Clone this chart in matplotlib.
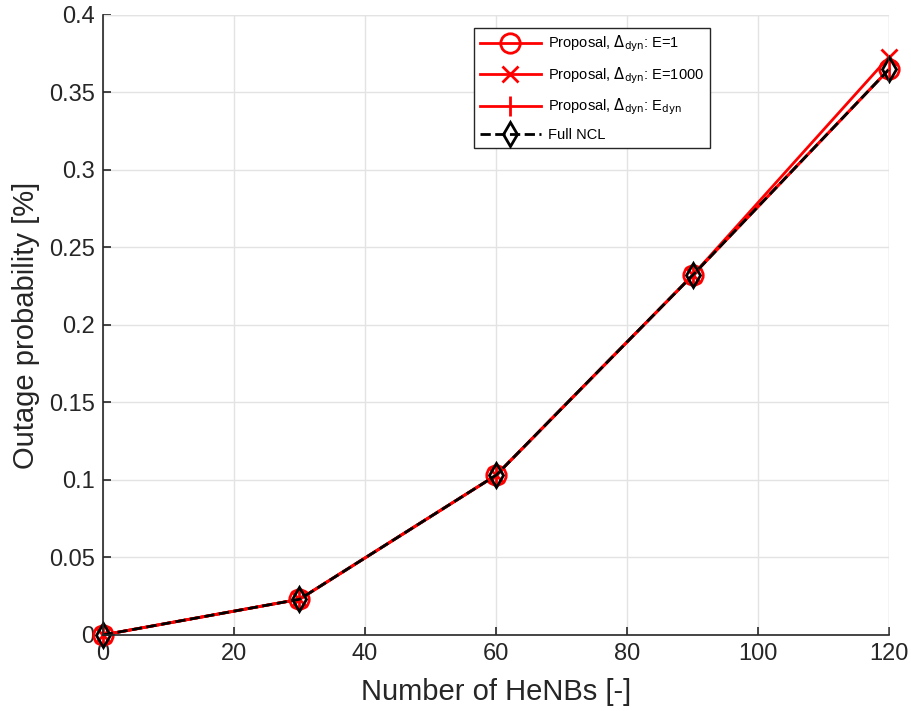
import matplotlib.pyplot as plt

plt.rcParams['font.family'] = ['Liberation Sans', 'DejaVu Sans']

henbs = [0, 30, 60, 90, 120]
prop_e1 = [0.0, 0.023, 0.103, 0.232, 0.365]
prop_e1000 = [0.0, 0.023, 0.103, 0.232, 0.373]
prop_edyn = [0.0, 0.023, 0.103, 0.232, 0.365]
full_ncl = [0.0, 0.023, 0.103, 0.232, 0.365]

fig = plt.figure(figsize=(9.11, 7.11), dpi=100)
ax = fig.add_axes([0.113, 0.107, 0.863, 0.872])

ax.plot(henbs, prop_e1, color='red', lw=2, marker='o', ms=14, mfc='none', mew=2,
        clip_on=False, label=r'Proposal, $\Delta_{\mathrm{dyn}}$: E=1')
ax.plot(henbs, prop_e1000, color='red', lw=2, marker='x', ms=12, mew=2,
        clip_on=False, label=r'Proposal, $\Delta_{\mathrm{dyn}}$: E=1000')
ax.plot(henbs, prop_edyn, color='red', lw=2, marker='|', ms=14, mew=2,
        clip_on=False, label=r'Proposal, $\Delta_{\mathrm{dyn}}$: E$_{\mathrm{dyn}}$')
ax.plot(henbs, full_ncl, color='black', lw=2, ls='--', marker='d', ms=12, mfc='none', mew=2,
        clip_on=False, label='Full NCL')

ax.set_xlim(0, 120)
ax.set_ylim(0, 0.4)
ax.set_xticks([0, 20, 40, 60, 80, 100, 120])
ax.set_yticks([0, 0.05, 0.1, 0.15, 0.2, 0.25, 0.3, 0.35, 0.4])
ax.set_yticklabels(['0', '0.05', '0.1', '0.15', '0.2', '0.25', '0.3', '0.35', '0.4'])
ax.tick_params(labelsize=17, colors='#262626', direction='in', length=6, width=1.2, pad=6)
ax.grid(True, color='#e3e3e3', lw=1)
ax.spines['top'].set_visible(False)
ax.spines['right'].set_visible(False)
for s in ['left', 'bottom']:
    ax.spines[s].set_color('#262626')
    ax.spines[s].set_linewidth(1.2)

# light box edges like the grid
ax.axhline(0.4, color='#e3e3e3', lw=1)
ax.axvline(120, color='#e3e3e3', lw=1)

ax.set_xlabel('Number of HeNBs [-]', fontsize=21, color='#262626', labelpad=9)
ax.set_ylabel('Outage probability [%]', fontsize=21, color='#262626', labelpad=6)

leg = ax.legend(loc='upper right', bbox_to_anchor=(0.772, 0.979), fontsize=10.5,
                fancybox=False, edgecolor='#262626', framealpha=1, handlelength=4.2,
                borderaxespad=0, labelspacing=0.75, handletextpad=0.5)
leg.get_frame().set_linewidth(1.0)

fig.savefig('out.png', dpi=100)
